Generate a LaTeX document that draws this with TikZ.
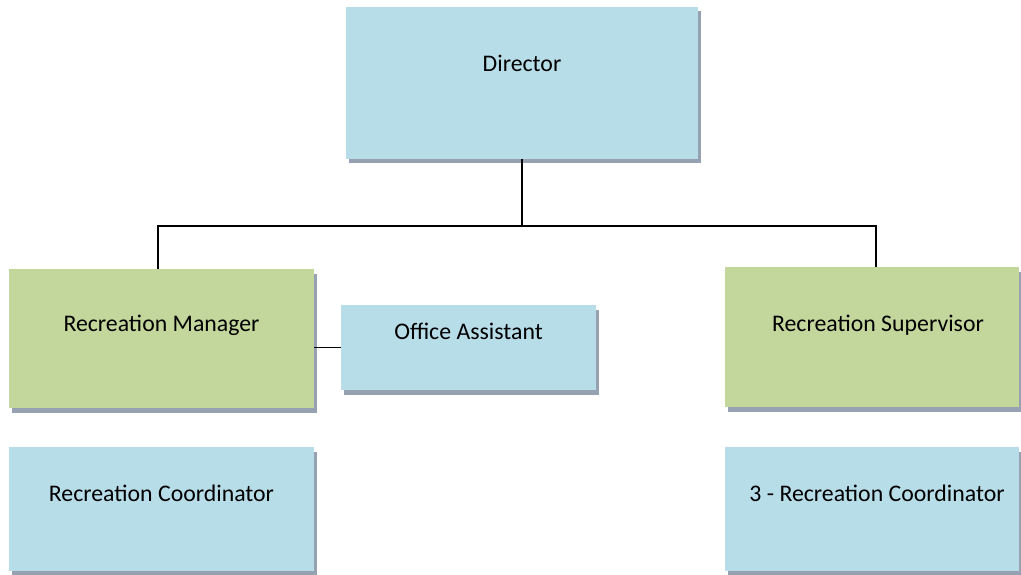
\documentclass[tikz,border=0pt]{standalone}
\usepackage{fontspec}
\setmainfont{Carlito}
\usetikzlibrary{shadows}
\definecolor{boxblue}{RGB}{183,221,232}
\definecolor{boxgreen}{RGB}{195,214,155}
\definecolor{shadowc}{RGB}{150,162,178}
\tikzset{
  orgbox/.style={rectangle, inner sep=0pt, draw=none,
    drop shadow={shadow xshift=3pt, shadow yshift=-4.5pt, fill=shadowc, opacity=1}},
  bluebox/.style={orgbox, fill=boxblue},
  greenbox/.style={orgbox, fill=boxgreen},
  title/.style={anchor=center, inner sep=0pt, font=\fontsize{23.8}{28}\selectfont, text=black},
  link/.style={line width=1.4pt, black}
}
\begin{document}
\begin{tikzpicture}[x=1pt, y=-1pt]
\useasboundingbox (0,0) rectangle (1021,575);

% boxes, each with its title set near the top
\node[bluebox, minimum width=352pt, minimum height=152pt,
  label={[title, name=tdir, yshift=-57pt]north:Director}] (dir) at (522,83) {};
\node[greenbox, minimum width=305pt, minimum height=139pt,
  label={[title, name=tmgr, yshift=-57pt]north:Recreation Manager}] (mgr) at (161.5,338.5) {};
\node[bluebox, minimum width=255pt, minimum height=85pt,
  label={[title, name=toff, yshift=-27pt]north:Office Assistant}] (off) at (468.5,347.5) {};
\node[greenbox, minimum width=294pt, minimum height=140pt,
  label={[title, name=tsup, xshift=6pt, yshift=-58pt]north:Recreation Supervisor}] (sup) at (872,337) {};
\node[bluebox, minimum width=305pt, minimum height=124pt,
  label={[title, name=tcl, yshift=-47pt]north:Recreation Coordinator}] (coordL) at (161.5,509) {};
\node[bluebox, minimum width=294pt, minimum height=124pt,
  label={[title, name=tcr, xshift=5pt, yshift=-47pt]north:3 - Recreation Coordinator}] (coordR) at (872,509) {};

% reporting lines
\coordinate (busL) at (158,226);
\coordinate (busR) at (876,226);
\draw[link] (dir.south) -- (dir.south |- busL);
\draw[link] (busL |- mgr.north) -- (busL) -- (busR) -- (busR |- sup.north);
\draw[link] (mgr.east |- off.west) -- (off.west);
\end{tikzpicture}
\end{document}
